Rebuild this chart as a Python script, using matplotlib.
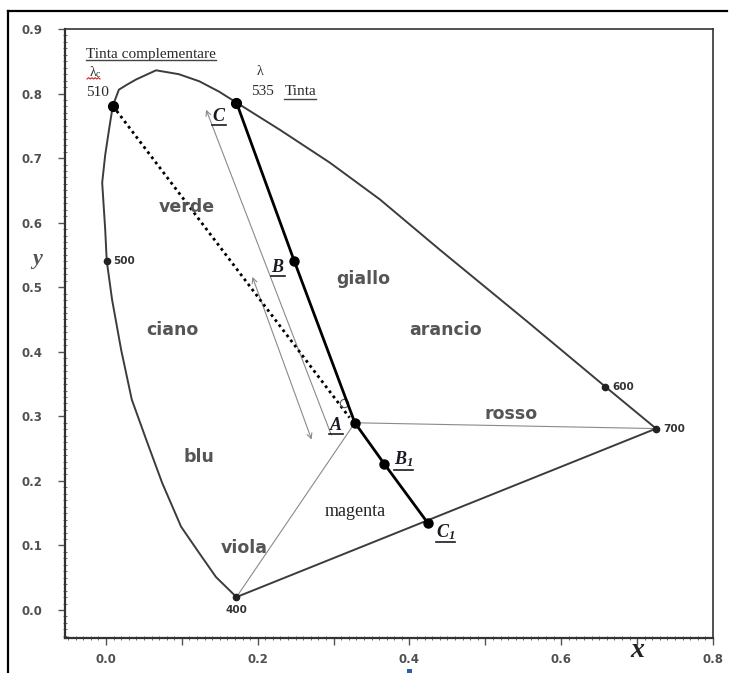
import numpy as np
import matplotlib
matplotlib.use("Agg")
import matplotlib.pyplot as plt
from matplotlib.ticker import MultipleLocator
from matplotlib.lines import Line2D
from matplotlib.patches import Rectangle

plt.rcParams['font.family'] = ['DejaVu Sans']
plt.rcParams['mathtext.fontset'] = 'custom'
plt.rcParams['mathtext.rm'] = 'Liberation Serif:italic:bold'
plt.rcParams['mathtext.it'] = 'Liberation Serif:italic:bold'
plt.rcParams['mathtext.bf'] = 'Liberation Serif:italic:bold'

# ---------------- data ----------------
# spectral locus, from 400 nm up the left side to 700 nm
locus_x = [0.172, 0.145, 0.123, 0.099, 0.074, 0.053, 0.034, 0.020, 0.008, 0.001,
           -0.001, -0.005, -0.001, 0.004, 0.009, 0.017, 0.028, 0.040, 0.066, 0.096,
           0.123, 0.149, 0.172, 0.229, 0.295, 0.361, 0.440, 0.555, 0.658, 0.725]
locus_y = [0.020, 0.051, 0.088, 0.129, 0.197, 0.264, 0.326, 0.403, 0.481, 0.541,
           0.589, 0.662, 0.705, 0.744, 0.781, 0.806, 0.814, 0.822, 0.836, 0.830,
           0.819, 0.803, 0.786, 0.744, 0.693, 0.636, 0.558, 0.447, 0.346, 0.281]

# labelled wavelengths on the locus
wl_names = ['400', '500', '600', '700']
wl_x = [0.172, 0.001, 0.658, 0.725]
wl_y = [0.020, 0.541, 0.346, 0.281]

# dominant (535) and complementary (510) wavelengths
hue_names = ['510', '535']
hue_x = [0.009, 0.172]
hue_y = [0.781, 0.786]

# construction points C, B, A, B1, C1
pt_names = ['C', 'B', 'A', 'B_1', 'C_1']
pt_x = [0.172, 0.248, 0.328, 0.367, 0.424]
pt_y = [0.786, 0.541, 0.290, 0.226, 0.135]

# small open circle (equal-energy point) near A
e_x, e_y = 0.314, 0.321
# end of dotted line from 510
dot_end_x, dot_end_y = 0.321, 0.298

# arrows (tail -> head)
arrow1_x = [0.297, 0.132]
arrow1_y = [0.271, 0.775]
arrow2_x = [0.193, 0.271]
arrow2_y = [0.516, 0.264]

# colour-region names
region_names = ['verde', 'giallo', 'arancio', 'ciano', 'blu', 'rosso', 'viola']
region_x = [0.107, 0.339, 0.447, 0.087, 0.123, 0.534, 0.182]
region_y = [0.625, 0.512, 0.434, 0.434, 0.237, 0.303, 0.096]

x_ticks = [0.0, 0.1, 0.2, 0.3, 0.4, 0.5, 0.6, 0.7, 0.8]
x_tick_labels = ['0.0', '', '0.2', '', '0.4', '', '0.6', '', '0.8']
y_ticks = [0.0, 0.1, 0.2, 0.3, 0.4, 0.5, 0.6, 0.7, 0.8, 0.9]
y_tick_labels = ['0.0', '0.1', '0.2', '0.3', '0.4', '0.5', '0.6', '0.7', '0.8', '0.9']

# ---------------- figure ----------------
W, H = 734, 673
fig = plt.figure(figsize=(W / 100, H / 100), dpi=100)
fig.patch.set_facecolor('white')
ax = fig.add_axes([65 / W, 1 - 638 / H, (713 - 65) / W, (638 - 29) / H])
ax.set_xlim(-0.054, 0.8)
ax.set_ylim(-0.0434, 0.9)

for s in ax.spines.values():
    s.set_color('#333333')
    s.set_linewidth(1.2)
ax.spines['left'].set_linewidth(1.6)
ax.spines['bottom'].set_linewidth(1.6)

ax.set_xticks(x_ticks, x_tick_labels)
ax.set_yticks(y_ticks, y_tick_labels)
ax.xaxis.set_minor_locator(MultipleLocator(0.01))
ax.yaxis.set_minor_locator(MultipleLocator(0.01))
ax.tick_params(which='major', direction='out', length=5, width=1.0, color='#555555',
               labelsize=8.5, labelcolor='#505050')
ax.tick_params(axis='x', which='major', pad=6)
ax.tick_params(axis='y', which='major', pad=11)
ax.tick_params(which='minor', direction='inout', length=2.5, width=0.6, color='#555555')
for lab in ax.get_xticklabels() + ax.get_yticklabels():
    lab.set_fontweight('bold')

# spectral locus
ax.plot(locus_x, locus_y, color='#3c3c3c', lw=1.4, zorder=3)
# purple line 400 -> 700
ax.plot([wl_x[0], wl_x[3]], [wl_y[0], wl_y[3]], color='#3c3c3c', lw=1.4, zorder=3)
# thin lines from A to 400 and to 700
A_x, A_y = pt_x[2], pt_y[2]
ax.plot([A_x, wl_x[0]], [A_y, wl_y[0]], color='#8a8a8a', lw=0.8, zorder=2)
ax.plot([A_x, wl_x[3]], [A_y, wl_y[3]], color='#8a8a8a', lw=0.8, zorder=2)

# dotted line from 510 towards A
ax.plot([hue_x[0], dot_end_x], [hue_y[0], dot_end_y], color='black', lw=2.0,
        linestyle=(0, (1, 1.3)), zorder=4)

# thick construction line C - B - A - B1 - C1
ax.plot(pt_x, pt_y, color='black', lw=2.0, zorder=5)

# arrows
ax.annotate('', xy=(arrow1_x[1], arrow1_y[1]), xytext=(arrow1_x[0], arrow1_y[0]),
            arrowprops=dict(arrowstyle='->', color='#8a8a8a', lw=0.8,
                            shrinkA=0, shrinkB=0, mutation_scale=9), zorder=2)
ax.annotate('', xy=(arrow2_x[1], arrow2_y[1]), xytext=(arrow2_x[0], arrow2_y[0]),
            arrowprops=dict(arrowstyle='<->', color='#8a8a8a', lw=0.8,
                            shrinkA=0, shrinkB=0, mutation_scale=9), zorder=2)

# dots
ax.plot(pt_x, pt_y, 'o', color='black', ms=6.5, zorder=6)
ax.plot(hue_x, hue_y, 'o', color='black', ms=7, zorder=6)
ax.plot(wl_x, wl_y, 'o', color='#222222', ms=4.5, zorder=6)
ax.plot([e_x], [e_y], 'o', mfc='none', mec='#555555', mew=0.8, ms=6, zorder=4)

# wavelength labels
wl_off = [(0, -9), (5, 0), (5, 0), (5, 0)]
wl_ha = ['center', 'left', 'left', 'left']
for n, x, y, off, ha in zip(wl_names, wl_x, wl_y, wl_off, wl_ha):
    ax.annotate(n, (x, y), xytext=off, textcoords='offset points', ha=ha, va='center',
                fontsize=7.5, fontweight='bold', color='#333333', zorder=7)

# region names
for n, x, y in zip(region_names, region_x, region_y):
    ax.text(x, y, n, ha='center', va='center', fontsize=12.5, fontweight='bold',
            color='#555555', zorder=7)
ax.text(0.328, 0.152, 'magenta', ha='center', va='center', fontsize=13,
        family='Liberation Serif', color='#222222', zorder=7)

fig.canvas.draw()
inv = fig.transFigure.inverted()


def underline(t, pad=1.0, lw=1.0, color='#222222'):
    fig.canvas.draw()
    bb = t.get_window_extent()
    (x0, y0), (x1, _) = inv.transform([(bb.x0, bb.y0 - pad), (bb.x1, bb.y0)])
    fig.add_artist(Line2D([x0, x1], [y0, y0], transform=fig.transFigure,
                          color=color, lw=lw))


# point labels
lab_pos = {'C': (0.149, 0.766), 'B': (0.227, 0.532), 'A': (0.303, 0.287),
           'B_1': (0.392, 0.233), 'C_1': (0.447, 0.121)}
for n in pt_names:
    x, y = lab_pos[n]
    t = ax.text(x, y, '$' + n + '$', ha='center', va='center', fontsize=13,
                color='#1a1a22', zorder=8)
    underline(t, pad=0.5, lw=1.2, color='#1a1a22')

serif = 'Liberation Serif'
t = ax.text(0.059, 0.860, 'Tinta complementare', ha='center', va='center',
            fontsize=11, family=serif, color='#2a2a2a', clip_on=False)
underline(t, pad=-1.5, lw=1.0, color='#444444')
ax.text(-0.017, 0.833, 'λ', ha='center', va='center', fontsize=10, family=serif,
        color='#2a2a2a')
ax.text(-0.011, 0.829, 'c', ha='center', va='center', fontsize=7, family=serif,
        color='#2a2a2a')
ax.text(-0.011, 0.802, '510', ha='center', va='center', fontsize=11, family=serif,
        color='#2a2a2a')
ax.text(0.203, 0.834, 'λ', ha='center', va='center', fontsize=10, family=serif,
        color='#2a2a2a')
ax.text(0.206, 0.803, '535', ha='center', va='center', fontsize=11, family=serif,
        color='#2a2a2a')
t = ax.text(0.256, 0.803, 'Tinta', ha='center', va='center', fontsize=11,
            family=serif, color='#2a2a2a')
underline(t, pad=0.5, lw=1.0, color='#444444')

# red spell-check squiggle under lambda_c
sq_x = np.linspace(87, 100, 9) / W
sq_y = (H - 79 + np.array([0, 1.3] * 4 + [0])) / H
fig.add_artist(Line2D(sq_x, sq_y, transform=fig.transFigure, color='#d02020', lw=0.8))

# axis letters
ax.text(0.700, -0.062, 'x', ha='center', va='center', fontsize=20, family=serif,
        style='italic', fontweight='bold', color='#222222', clip_on=False)
ax.text(-0.091, 0.544, 'y', ha='center', va='center', fontsize=16, family=serif,
        style='italic', fontweight='bold', color='#555555', clip_on=False)

# scan frame (top and left edges) and small blue cursor mark
fig.add_artist(Line2D([8 / W, 8 / W], [0, 1 - 11 / H], transform=fig.transFigure,
                      color='black', lw=1.6))
fig.add_artist(Line2D([8 / W, 727 / W], [1 - 11 / H, 1 - 11 / H],
                      transform=fig.transFigure, color='black', lw=1.6))
fig.add_artist(Rectangle((407 / W, 0), 5 / W, 4 / H, transform=fig.transFigure,
                         color='#2e5fa0', lw=0))

fig.savefig('out.png', dpi=100)
